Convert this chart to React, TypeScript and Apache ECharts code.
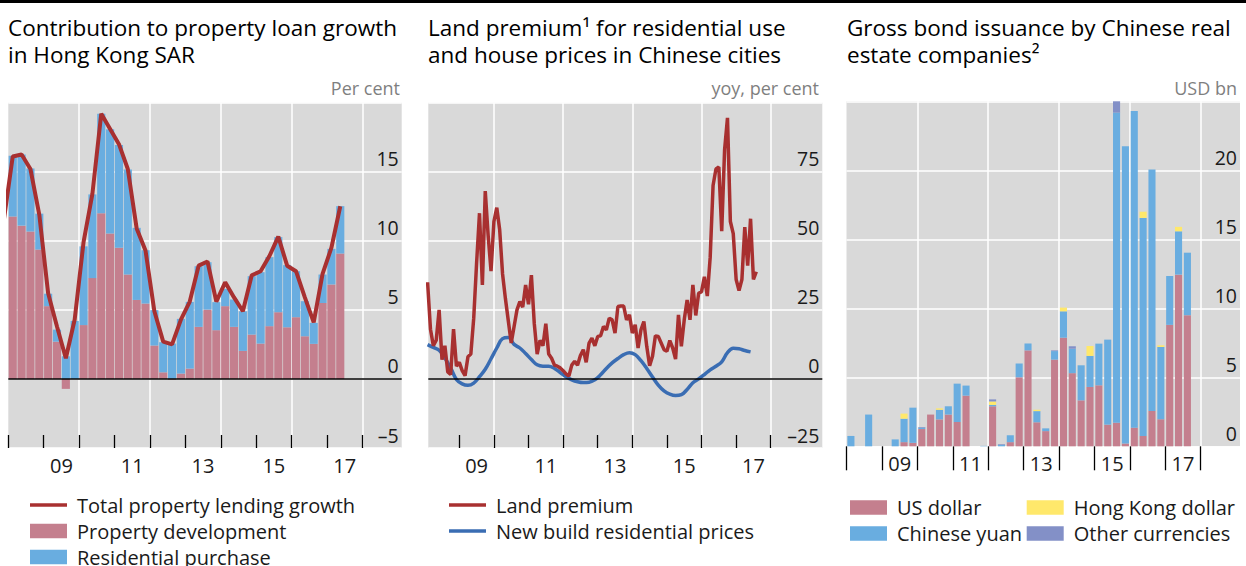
import React, { useEffect, useRef } from 'react';
import * as echarts from 'echarts';

// ---------- Panel 1: Hong Kong property loan growth (quarterly, 2008Q1–2017Q2) ----------
const propertyDevelopment = [
  11.76, 11.1, 10.68, 9.37, 5.27, 2.7, -0.72, 0, 3.9, 7.3, 12.0, 10.53, 9.5, 7.56, 5.72, 5.46,
  2.42, 0.48, -0.05, 0.39, 0.75, 3.77, 5.02, 3.53, 5.27, 3.77, 2.03, 3.21, 2.56, 3.82, 4.83, 3.74,
  4.47, 3.09, 2.54, 5.5, 6.84, 9.08,
];
const residentialPurchase = [
  4.4, 5.15, 4.55, 2.6, 0.9, 0.87, 1.64, 4.2, 5.7, 6.06, 7.2, 7.54, 7.43, 7.6, 5.22, 3.86,
  2.56, 2.18, 2.56, 3.96, 4.83, 4.39, 3.43, 2.03, 1.25, 1.98, 2.87, 4.23, 5.17, 5.0, 5.44, 4.5,
  3.33, 2.54, 1.52, 2.06, 2.58, 3.43,
];
// starts 2007Q4 (clipped at the left edge)
const lendingGrowth = [
  11.5, 16.1, 16.25, 15.2, 11.9, 6.2, 3.8, 1.5, 4.3, 9.9, 13.4, 19.2, 18.1, 17.0, 15.2, 10.9, 9.3,
  4.9, 2.7, 2.5, 4.3, 5.6, 8.2, 8.5, 5.6, 7.0, 5.9, 4.9, 7.5, 7.8, 8.9, 10.3, 8.2, 7.8, 5.9, 4.1,
  7.6, 9.5, 12.5,
];

// ---------- Panel 2: land premium (monthly from Feb 2008) & new build prices (every 2 months from Feb 2008) ----------
const landPremium = [
  35, 18, 12, 14, 25, 7, 12, 2.5, 1.6, 18,
  4.6, 6, 3, 1.2, 8, 9, 22, 42, 60, 34,
  68, 52, 39, 57, 62, 54, 38, 29, 21, 13,
  19, 25, 28, 26, 34, 27, 37.6, 20, 9, 14,
  12, 20, 9, 7.5, 5, 4.6, 4, 3, 1.8, 1,
  5, 6.4, 5, 8.5, 10.6, 6, 13, 14.8, 12, 15.4,
  15.6, 19, 17.8, 22, 21.4, 16.6, 26.2, 26.4, 26.4, 21.4,
  23.2, 16.6, 19.6, 11.2, 17.8, 20.8, 11.8, 4.8, 8.2, 15.6,
  15.4, 13, 10.6, 10, 13.9, 11.2, 7.2, 23.2, 11.8, 21.4,
  28.6, 21.4, 34, 23, 31, 31.6, 37, 30, 44, 70,
  76, 76.7, 53.5, 83, 94.5, 57, 52.6, 36, 32, 36,
  55, 41, 58, 36, 38.8,
];
const newBuildPrices = [
  12.4, 11.4, 10.4, 7.6, 4, -0.2, -1.8, -2.3, -1.5, 0.8,
  3.5, 7.3, 11.2, 14.6, 15, 12.5, 11.2, 9.2, 7, 5.1,
  4.6, 4.6, 3.8, 2.3, 0.8, -0.3, -1, -1.3, -1.2, -0.3,
  1.5, 3.8, 5.8, 7.4, 8.8, 9.5, 8.8, 6.6, 3.8, 0.7,
  -2.2, -4.3, -5.5, -6, -5.7, -3.8, -1.4, 0, 1.6, 3.3,
  4.6, 6.2, 9.5, 11.1, 10.9, 10.3, 9.8,
];

// ---------- Panel 3: bond issuance (quarterly, 2008Q1–2017Q3), USD bn ----------
const usDollar = [
  0, 0, 0, 0, 0, 0, 0.3, 0.25, 1.25, 2.3, 1.95, 2.3, 1.76, 3.67, 0, 0,
  2.9, 0, 0.3, 5.0, 6.95, 1.74, 1.1, 6.28, 7.87, 5.3, 3.33, 4.3, 4.42, 1.57, 1.71, 0.2,
  1.35, 0.75, 2.56, 1.96, 8.8, 12.44, 9.5,
];
const chineseYuan = [
  0.75, 0, 2.3, 0, 0, 0.5, 1.7, 2.55, 0.1, 0, 0.7, 0.6, 2.78, 0.73, 0, 0.03,
  0.1, 0.1, 0.5, 1.0, 0.5, 0.81, 0.2, 0.62, 1.91, 1.77, 2.54, 2.25, 3.02, 6.16, 22.47, 21.54,
  22.95, 15.8, 17.49, 5.24, 3.54, 3.14, 4.53,
];
const hongKongDollar = [
  0, 0, 0, 0, 0, 0, 0.37, 0, 0, 0, 0.1, 0, 0, 0, 0, 0,
  0.25, 0, 0, 0, 0, 0.1, 0, 0, 0.27, 0, 0, 0.72, 0, 0, 0, 0,
  0, 0.45, 0, 0.12, 0, 0.32, 0,
];
const otherCurrencies = [
  0, 0, 0, 0, 0, 0, 0, 0, 0.05, 0, 0, 0, 0, 0, 0, 0,
  0.15, 0.05, 0, 0, 0, 0, 0, 0.05, 0, 0.18, 0, 0, 0, 0, 0.9, 0,
  0, 0, 0, 0, 0, 0, 0,
];

const yearTicks = [2008, 2009, 2010, 2011, 2012, 2013, 2014, 2015, 2016, 2017, 2018];
const gridYears = [2010, 2012, 2014, 2016, 2018];
const labelYears = [2009, 2011, 2013, 2015, 2017];

const FONT = "'Open Sans', 'Noto Sans', sans-serif";
const C = {
  bg: '#d9d9d9',
  pink: '#c47f8e',
  blue: '#69ade0',
  yellow: '#ffe86b',
  purple: '#8390c7',
  red: '#a83030',
  navy: '#3a6db3',
  text: '#1a1a1a',
  unit: '#7f7f7f',
};

const LINE_ICON = 'path://M0 0H100V10H0Z';

const quarterNames = (startYear: number, n: number) =>
  Array.from({ length: n }, (_, i) => `${startYear + Math.floor(i / 4)}Q${(i % 4) + 1}`);

// layout of the three plot frames
const F1 = { left: 8.3, top: 102.7, width: 393.4, height: 345.3, xMin: 2008, xMax: 2019.11 };
const F2 = { left: 428.3, top: 102.7, width: 394, height: 345.3, xMin: 2008.104, xMax: 2019.49 };
const F3 = { left: 846.5, top: 101.3, width: 393.5, height: 345, xMin: 2008, xMax: 2019.11 };

const qWidth = (f: typeof F1) => f.width / (f.xMax - f.xMin) / 4;

const minus = (v: number) => (v < 0 ? '\u2013' + Math.abs(v) : String(v));

function frameAxes(gridIndex: number, f: typeof F1, startYear: number, ticksInside: boolean) {
  const ticks = yearTicks.filter((y) => y >= startYear);
  return [
    {
      type: 'value', gridIndex, min: f.xMin, max: f.xMax, position: 'bottom',
      axisLine: { show: false }, axisTick: { show: false, customValues: gridYears },
      axisLabel: { show: false },
      splitLine: { show: true, lineStyle: { color: '#ffffff', width: 1.5 } },
    },
    {
      type: 'value', gridIndex, min: f.xMin, max: f.xMax, position: 'bottom',
      axisLine: { show: false },
      axisTick: {
        show: true, inside: ticksInside, length: ticksInside ? 13 : 24, customValues: ticks,
        lineStyle: { color: '#000', width: 1.3 },
      },
      axisLabel: {
        show: true, customValues: labelYears.map((y) => y + 0.5),
        formatter: (v: number) => String(Math.floor(v)).slice(2),
        fontSize: 20, color: C.text, fontFamily: FONT, margin: 7,
      },
      splitLine: { show: false },
    },
  ];
}

function valueY(gridIndex: number, min: number, max: number, interval: number, show: boolean) {
  return {
    type: 'value', gridIndex, min, max, interval, position: 'right',
    show,
    axisLine: { show: false }, axisTick: { show: false },
    axisLabel: {
      show, inside: true, verticalAlign: 'bottom', margin: 3, padding: [0, 0, 3, 0],
      fontSize: 19.5, color: C.text, fontFamily: FONT,
      formatter: (v: number) => (v === max ? '' : minus(v)),
    },
    splitLine: { show, lineStyle: { color: '#ffffff', width: 1.5 } },
  };
}

const zeroLine = {
  silent: true, symbol: 'none', label: { show: false },
  lineStyle: { color: '#000', width: 1.5, type: 'solid' },
  data: [{ yAxis: 0 }],
};

function buildOption() {
  const q1 = quarterNames(2008, propertyDevelopment.length);
  const q3 = quarterNames(2008, usDollar.length);

  const gridBase = { show: true, backgroundColor: C.bg, borderWidth: 0, containLabel: false };
  const grids = [
    { ...gridBase, left: F1.left, top: F1.top, width: F1.width, height: F1.height },
    { show: false, left: F1.left, top: F1.top, width: q1.length * qWidth(F1), height: F1.height },
    { ...gridBase, left: F2.left, top: F2.top, width: F2.width, height: F2.height },
    { ...gridBase, left: F3.left, top: F3.top, width: F3.width, height: F3.height },
    { show: false, left: F3.left, top: F3.top, width: q3.length * qWidth(F3), height: F3.height },
  ];

  const catAxis = (gridIndex: number, data: string[]) => ({
    type: 'category', gridIndex, data, show: false, boundaryGap: true,
  });

  const xAxis = [
    ...frameAxes(0, F1, 2008, true), // 0,1
    catAxis(1, q1), // 2
    ...frameAxes(2, F2, 2009, true), // 3,4
    ...frameAxes(3, F3, 2008, false), // 5,6
    catAxis(4, q3), // 7
  ];
  const yAxis = [
    valueY(0, -5, 20, 5, true),
    valueY(1, -5, 20, 5, false),
    valueY(2, -25, 100, 25, true),
    valueY(3, 0, 25, 5, true),
    valueY(4, 0, 25, 5, false),
  ];

  const barBase1 = { type: 'bar', xAxisIndex: 2, yAxisIndex: 1, stack: 'hk', barCategoryGap: '8%' };
  const barBase3 = { type: 'bar', xAxisIndex: 7, yAxisIndex: 4, stack: 'bond', barCategoryGap: '20%' };

  const series: any[] = [
    { ...barBase1, name: 'Property development', data: propertyDevelopment, itemStyle: { color: C.pink } },
    { ...barBase1, name: 'Residential purchase', data: residentialPurchase, itemStyle: { color: C.blue } },
    {
      type: 'line', name: 'Total property lending growth', xAxisIndex: 0, yAxisIndex: 0,
      data: lendingGrowth.map((v, i) => [2008 + (i - 1 + 0.5) / 4, v]),
      symbol: 'none', lineStyle: { color: C.red, width: 4 }, itemStyle: { color: C.red },
      markLine: zeroLine, z: 3,
    },
    {
      type: 'line', name: 'New build residential prices', xAxisIndex: 3, yAxisIndex: 2,
      data: newBuildPrices.map((v, i) => [2008 + (1 + 2 * i) / 12, v]),
      symbol: 'none', smooth: 0.4, lineStyle: { color: C.navy, width: 3.5 }, itemStyle: { color: C.navy },
      markLine: zeroLine,
    },
    {
      type: 'line', name: 'Land premium', xAxisIndex: 3, yAxisIndex: 2,
      data: landPremium.map((v, i) => [2008 + (1 + i) / 12, v]),
      symbol: 'none', lineStyle: { color: C.red, width: 3.5 }, itemStyle: { color: C.red },
    },
    { ...barBase3, name: 'US dollar', data: usDollar, itemStyle: { color: C.pink } },
    { ...barBase3, name: 'Chinese yuan', data: chineseYuan, itemStyle: { color: C.blue } },
    { ...barBase3, name: 'Hong Kong dollar', data: hongKongDollar, itemStyle: { color: C.yellow } },
    { ...barBase3, name: 'Other currencies', data: otherCurrencies, itemStyle: { color: C.purple } },
  ];

  const legendBase = {
    orient: 'vertical', padding: 0, itemWidth: 37, itemHeight: 14.5, itemGap: 6,
    height: 120, selectedMode: false, symbolKeepAspect: true,
    textStyle: { fontSize: 20, lineHeight: 20, color: C.text, fontFamily: FONT, padding: [0, 0, 0, 5] },
  };
  const legend = [
    {
      ...legendBase, left: 30, top: 495,
      data: [
        { name: 'Total property lending growth', icon: LINE_ICON },
        { name: 'Property development', icon: 'rect' },
        { name: 'Residential purchase', icon: 'rect' },
      ],
    },
    {
      ...legendBase, left: 449, top: 495,
      data: [
        { name: 'Land premium', icon: LINE_ICON },
        { name: 'New build residential prices', icon: LINE_ICON },
      ],
    },
    {
      ...legendBase, left: 850, top: 497.5,
      data: [{ name: 'US dollar', icon: 'rect' }, { name: 'Chinese yuan', icon: 'rect' }],
    },
    {
      ...legendBase, left: 1026.7, top: 497.5,
      data: [{ name: 'Hong Kong dollar', icon: 'rect' }, { name: 'Other currencies', icon: 'rect' }],
    },
  ];

  const titleStyle = { fontSize: 22.5, lineHeight: 27, fontWeight: 'normal', color: '#000', fontFamily: FONT };
  const unitStyle = { fontSize: 18, color: C.unit, fontWeight: 'normal', fontFamily: FONT };
  const title = [
    { text: 'Contribution to property loan growth\nin Hong Kong SAR', left: 8, top: 14, padding: 0, textStyle: titleStyle },
    { text: 'Land premium\u00b9 for residential use\nand house prices in Chinese cities', left: 428, top: 14, padding: 0, textStyle: titleStyle },
    { text: 'Gross bond issuance by Chinese real\nestate companies\u00b2', left: 847, top: 14, padding: 0, textStyle: titleStyle },
    { text: 'Per cent', right: 1246 - 400, top: 79, padding: 0, textStyle: unitStyle },
    { text: 'yoy, per cent', right: 1246 - 819, top: 79, padding: 0, textStyle: unitStyle },
    { text: 'USD bn', right: 1246 - 1237, top: 79, padding: 0, textStyle: unitStyle },
  ];

  return {
    animation: false,
    backgroundColor: '#ffffff',
    textStyle: { fontFamily: FONT },
    title,
    legend,
    grid: grids,
    xAxis,
    yAxis,
    series,
    graphic: [
      { type: 'rect', left: 0, top: 0, shape: { x: 0, y: 0, width: 1246, height: 3 }, style: { fill: '#000' }, silent: true },
    ],
  };
}

export default function App() {
  const ref = useRef<HTMLDivElement>(null);
  useEffect(() => {
    if (!ref.current) return;
    const chart = echarts.init(ref.current, null, { renderer: 'svg' });
    chart.setOption(buildOption() as any);
    return () => chart.dispose();
  }, []);
  return (
    <div
      ref={ref}
      style={{ position: 'absolute', left: 0, top: 0, width: 1246, height: 566, background: '#fff' }}
    />
  );
}
